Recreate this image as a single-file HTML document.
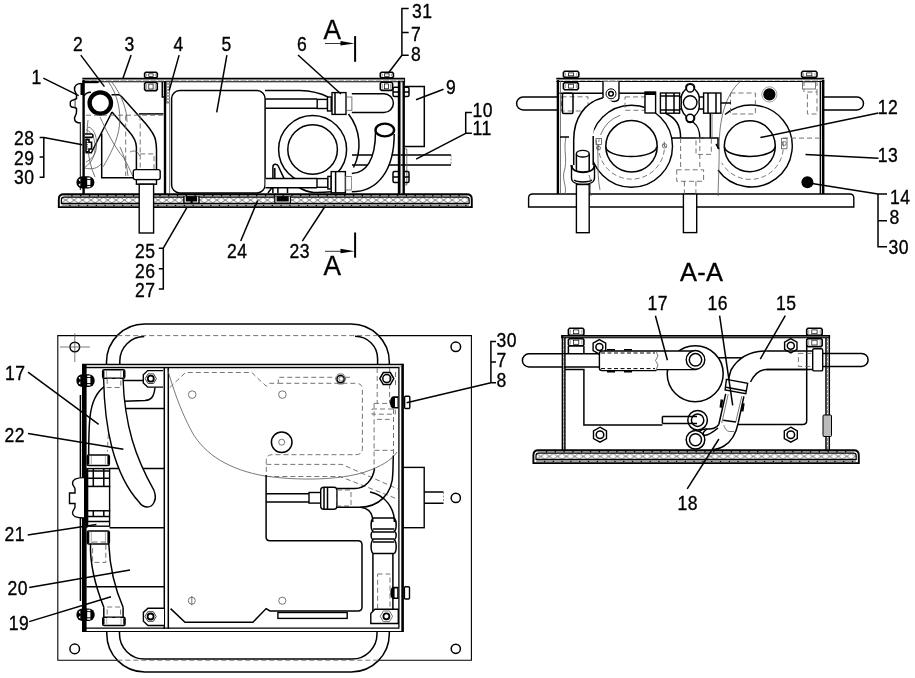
<!DOCTYPE html>
<html><head><meta charset="utf-8"><style>
html,body{margin:0;padding:0;background:#fff;}
svg{display:block;font-family:"Liberation Sans",sans-serif;will-change:transform;}
.k{fill:none;stroke:#000;stroke-width:1.4;stroke-linejoin:round;stroke-linecap:butt}
.b{fill:none;stroke:#000;stroke-width:2.4}
.t{fill:none;stroke:#555;stroke-width:0.8}
.d{fill:none;stroke:#666;stroke-width:0.9;stroke-dasharray:5 3}
.w{fill:#fff;stroke:#000;stroke-width:1.4}
.l{fill:none;stroke:#000;stroke-width:1.5}
text{font-size:19.5px;fill:#000;stroke:#000;stroke-width:0.35;letter-spacing:0.5px}
</style></head><body>
<svg width="915" height="678" viewBox="0 0 915 678">
<defs>
<pattern id="hx1" x="2.7" y="197.1" width="8.4" height="6" patternUnits="userSpaceOnUse">
<path d="M0,0 L8.4,6 M8.4,0 L0,6" stroke="#555" stroke-width="0.75"/>
</pattern>
<pattern id="hx4" x="536.5" y="453.4" width="8.5" height="6" patternUnits="userSpaceOnUse">
<path d="M0,0 L8.5,6 M8.5,0 L0,6" stroke="#555" stroke-width="0.75"/>
</pattern>
<pattern id="hx" width="3" height="3" patternUnits="userSpaceOnUse">
<rect width="3" height="3" fill="#fff"/>
<path d="M0,0 L3,3 M3,0 L0,3" stroke="#666" stroke-width="0.6"/>
</pattern>
</defs>

<!-- ================= VIEW 1 : side view ================= -->
<g id="v1">
<!-- base plate -->
<path d="M58.8,207.10000000000002 L58.8,199.3 Q58.8,194.3 63.8,194.3 L466.8,194.3 Q471.8,194.3 471.8,199.3 L471.8,207.10000000000002 Z" fill="#fff" stroke="#000" stroke-width="1.9"/>
<rect x="61.8" y="197.3" width="407.0" height="6" fill="url(#hx1)"/>
<path d="M61.4,203.4 L61.4,199.8 Q61.4,197.10000000000002 64.1,197.10000000000002 L466.5,197.10000000000002 Q469.2,197.10000000000002 469.2,199.8 L469.2,203.4 Z" fill="none" stroke="#000" stroke-width="1.2"/>
<path d="M63.8,195.8 L466.8,195.8 M61.8,205.3 L468.8,205.3" stroke="#000" stroke-width="1.6"/>
<path d="M63.8,195.8 L466.8,195.8 M61.8,205.3 L468.8,205.3" stroke="#fff" stroke-width="0.8" stroke-dasharray="7.5 1.3"/>
<!-- top plate -->
<path d="M82.3,78.7 L404.6,78.7" stroke="#000" stroke-width="1.7"/>
<path d="M83,80.4 L404,80.4" stroke="#999" stroke-width="0.8" stroke-dasharray="6 1.5"/>
<path d="M82.3,81.7 L404.6,81.7" stroke="#000" stroke-width="1.1"/>
<path d="M404.6,77.9 L404.6,82.3" stroke="#000" stroke-width="1"/>
<!-- left wall -->
<line x1="83.6" y1="80" x2="83.6" y2="194" class="b" stroke-width="3"/>
<line x1="80.3" y1="124" x2="80.3" y2="190" stroke="#000" stroke-width="1"/>
<!-- flange part 1 -->
<path d="M81,83.5 C77,83.5 74.5,86 74.5,89 C74.5,92 76.5,93 76.5,95.5 L76.5,98.5 L74.7,99.5 L74.7,107.5 L76.5,108.5 L76.5,112 C76.5,115 74.5,116 74.5,118.5 C74.5,121.5 77,123 81,123" class="l"/>
<path d="M74.7,99.5 L71.5,100.5 L70.3,102 L70.3,105.5 L71.5,107 L74.7,107.5" class="w" stroke-width="1.1"/>
<rect x="80.5" y="83" width="3.2" height="12" fill="#000"/>
<rect x="82.5" y="80.8" width="16" height="2.4" fill="#000"/>
<path d="M84,95.7 C86,93 88,92 91,92.2" class="l" stroke-width="1.2"/>
<!-- pipe ring -->
<circle cx="100.3" cy="103" r="10.7" fill="none" stroke="#000" stroke-width="4.3"/>
<!-- bracket part 2 -->
<path d="M111.5,94.8 L118.5,94.8 C120,95 121,96 122,97 L146,124 C151,130 154.6,135 155.5,140 C156.3,144 156.5,147 156.5,150 L156.5,170" class="l"/>
<path d="M112,112 L122.6,124.3 L129,131.5 C133,136 136.4,141 136.4,147 L136.4,170" class="l"/>
<path d="M112,112 L91.3,152.8 L85.5,152.8" class="l"/>
<path d="M101.7,133.5 L101.7,177.7 L133.5,177.7" class="l"/>
<path d="M138.9,113.9 L163.4,113.9" class="l"/>
<line x1="86" y1="115.2" x2="163" y2="115.2" class="d"/>
<line x1="125.7" y1="115.5" x2="125.7" y2="176" class="d"/>
<line x1="140.2" y1="115.5" x2="140.2" y2="154" class="d"/>
<rect x="140.2" y="153.9" width="13.8" height="25" class="d"/>
<path d="M107.9,81 C118,95 121,112 119.5,125 C118,140 110,155 103.2,166.7" class="t"/>
<path d="M111,81 C122,95 127,110 127,122" class="t"/>
<path d="M100.1,117.2 C106,130 115,148 123.4,157.4 C127,163 130,170 132.7,176" class="t"/>
<path d="M86.2,129.6 C92,132 96,140 95,150 C94,158 91,163 85,167" class="t"/>
<path d="M85,168 C92,170 98,168 101,164" class="t"/>
<path d="M88,120 C86,135 87,160 95,177" class="t"/>
<path d="M130,152 C134,150 138,151 139.5,156" class="t"/>
<path d="M120,147 C124,155 127,165 128,176" class="t"/>
<!-- bolt 28 -->
<path d="M85,134 L91.5,134 Q93,134 93,135.7 Q93,137.4 91.5,137.4 L85,137.4" fill="#fff" stroke="#000" stroke-width="1.6"/>
<path d="M86,139.6 L89,139.6 L89,142.2 L91.6,142.2 L91.6,149 L89,149 L89,151.8 L86,151.8 Z" fill="#fff" stroke="#000" stroke-width="1.6"/>
<path d="M87.2,142 L87.2,149.5" stroke="#000" stroke-width="1" stroke-dasharray="1 1.2"/>
<path d="M88,127 C95,128 98,140 96,150 C95,156 90,160 86,162" class="t"/>
<!-- bottom-left nut -->
<rect x="76.4" y="176.3" width="18" height="12.2" rx="6" fill="#000"/>
<rect x="87.2" y="177.5" width="3.2" height="1.5" fill="#fff"/><rect x="87.2" y="179.9" width="3.2" height="5" fill="#fff"/><rect x="87.2" y="185.9" width="3.2" height="1.4" fill="#fff"/>
<path d="M78.5,179.8 L80.3,178.60000000000002 L80.3,181.8 Z M78.5,185.10000000000002 L80.3,186.3 L80.3,183.10000000000002 Z" fill="#fff"/>
<!-- fitting & pipe down -->
<rect x="133.3" y="169.6" width="26.9" height="10" rx="2" class="w" stroke-width="1.6"/>
<rect x="136.4" y="179.6" width="20.1" height="4.6" class="w"/>
<rect x="139.2" y="184.2" width="14.4" height="48.8" class="w"/>
<!-- top bolt -->
<path d="M145.8,72.2 L156.1,72.2 L157.3,73.4 L157.3,76.7 L156.1,77.9 L145.8,77.9 L144.6,76.7 L144.6,73.4 Z" fill="#fff" stroke="#000" stroke-width="1.6"/><path d="M146.6,73.7 L146.6,76.4 M155.3,73.7 L155.3,76.4" stroke="#888" stroke-width="0.8"/><rect x="148.8" y="73.8" width="4.3" height="2.5" fill="none" stroke="#000" stroke-width="0.7"/>
<path d="M145.8,82.5 L156.1,82.5 L157.3,83.7 L157.3,89.4 L156.1,90.6 L145.8,90.6 L144.6,89.4 L144.6,83.7 Z" fill="#fff" stroke="#000" stroke-width="1.6"/><path d="M146.6,84.0 L146.6,89.1 M155.3,84.0 L155.3,89.1" stroke="#888" stroke-width="0.8"/><rect x="148.8" y="84.1" width="4.3" height="4.9" fill="none" stroke="#000" stroke-width="0.7"/>
<!-- part 4 wall -->
<line x1="165" y1="81" x2="165" y2="194" class="b"/>
<rect x="166.6" y="82" width="3" height="21" fill="url(#hx)" stroke="#333" stroke-width="0.6"/>
<line x1="169.6" y1="103" x2="169.6" y2="193" class="t"/>
<path d="M162.3,82 L162.3,97 L164,97" class="l" stroke-width="1"/>
<!-- part 5 -->
<rect x="171.6" y="90.6" width="93.5" height="102.3" rx="8" class="l"/>
<!-- upper curve line -->
<path d="M265,90.6 L300,90.6 C312,91 320,93 328,97" class="l"/>
<!-- upper tube -->
<path d="M265.5,98.9 L317,98.9 M265.5,108.2 L317,108.2" class="l"/>
<rect x="317.2" y="99.4" width="10.3" height="9.1" class="w" stroke-width="1.3"/>
<rect x="327.5" y="97" width="3.7" height="14" class="w" stroke-width="1.1"/>
<rect x="332" y="92.6" width="14" height="21.8" class="w" stroke-width="1.6"/>
<line x1="335" y1="93" x2="335" y2="114" class="l" stroke-width="1"/>
<rect x="346" y="97" width="5.9" height="13.3" class="t"/>
<path d="M351.8,93.7 L384,93.7 A9.4,9.4 0 0 1 384,112.5 L351.8,112.5" class="l"/>
<!-- big coil -->
<circle cx="312.6" cy="149.5" r="34" class="l"/>
<circle cx="312.6" cy="149.5" r="24.8" class="l"/>
<path d="M348.5,114 A50,50 0 0 1 353.5,167.5" class="l"/>
<!-- lower tube -->
<path d="M297.3,186.5 C303,190 308,192.2 313.7,192.4 C320,192.6 326,192.2 331.2,191.7" class="l" stroke-width="1.3"/>
<rect x="265.5" y="178.4" width="51.5" height="9.3" fill="#fff" stroke="none"/>
<path d="M265.5,178.4 L317,178.4 M265.5,187.7 L317,187.7" class="l"/>
<rect x="317" y="178.6" width="11" height="8.7" class="w" stroke-width="1.3"/>
<rect x="327.9" y="176.4" width="3.3" height="12.6" class="w" stroke-width="1.1"/>
<rect x="331.2" y="171.6" width="14.2" height="21.2" class="w" stroke-width="1.6"/>
<line x1="335.6" y1="172" x2="335.6" y2="192.5" class="l" stroke-width="1"/>
<rect x="345.4" y="176.4" width="6" height="13.6" class="t"/>
<!-- small clip near bottom -->
<path d="M272.9,178.4 L272.9,167 C272.9,163.5 277.5,163.5 278.5,166.5 C280,170 282,174 284,178.4" class="l" stroke-width="1.2"/>
<path d="M274.8,178.4 L274.8,168" class="l" stroke-width="0.9"/>
<path d="M272.9,187.7 L272.9,193 M277.9,187.7 L277.9,193 M287.5,187.7 L287.5,193 M268,193 C270,190 271,189 272,187.7" class="l" stroke-width="1.1"/>
<!-- horizontal pipe 10/11 -->
<path d="M352,155 L451,155 M352,164.9 L451,164.9" class="l"/>
<line x1="451" y1="155" x2="451" y2="164.9" stroke="#777" stroke-dasharray="2 1.5" stroke-width="0.8"/>
<path d="M404.8,149 L406.8,149 L406.8,185 L404.8,185" class="t"/>
<!-- elbow -->
<path d="M351.8,173.4 C366,173 375.5,160 375.5,132 L394.2,132 C394.2,170 378,191.8 351.8,191.8 Z" fill="#fff" stroke="none"/>
<path d="M351.8,173.4 C366,173 375.5,160 375.5,132" class="l"/>
<path d="M351.8,191.8 C378,191.8 394.2,170 394.2,134" class="l"/>
<ellipse cx="384.8" cy="130" rx="9.3" ry="6.4" fill="#fff" stroke="#000" stroke-width="2.4"/>
<!-- right wall -->
<line x1="399" y1="81" x2="399" y2="194" class="b" stroke-width="1.6"/>
<line x1="400.6" y1="81" x2="400.6" y2="194" class="t"/>
<line x1="403.7" y1="81" x2="403.7" y2="194" class="b" stroke-width="1.3"/>
<!-- right top bolt -->
<path d="M381.5,72.2 L392.2,72.2 L393.4,73.4 L393.4,76.7 L392.2,77.9 L381.5,77.9 L380.3,76.7 L380.3,73.4 Z" fill="#fff" stroke="#000" stroke-width="1.6"/><path d="M382.3,73.7 L382.3,76.4 M391.4,73.7 L391.4,76.4" stroke="#888" stroke-width="0.8"/><rect x="384.6" y="73.8" width="4.5" height="2.5" fill="none" stroke="#000" stroke-width="0.7"/>
<path d="M381.5,82.3 L391.4,82.3 L392.6,83.5 L392.6,89.2 L391.4,90.4 L381.5,90.4 L380.3,89.2 L380.3,83.5 Z" fill="#fff" stroke="#000" stroke-width="1.6"/><path d="M382.3,83.8 L382.3,88.9 M390.6,83.8 L390.6,88.9" stroke="#888" stroke-width="0.8"/><rect x="384.4" y="83.9" width="4.2" height="4.9" fill="none" stroke="#000" stroke-width="0.7"/>
<path d="M399,87.3 L394.5,87.3 Q393,87.3 393,88.8 L393,95.0 Q393,96.5 394.5,96.5 L399,96.5 M393,91.9 L399,91.9" class="l" stroke-width="1.2"/>
<path d="M404,87.3 L407.5,87.3 Q409,87.3 409,88.8 L409,95.0 Q409,96.5 407.5,96.5 L404,96.5 M404,91.9 L409,91.9" class="l" stroke-width="1.2"/>
<path d="M399,171.5 L394.5,171.5 Q393,171.5 393,173.0 L393,181.0 Q393,182.5 394.5,182.5 L399,182.5 M393,177.0 L399,177.0" class="l" stroke-width="1.2"/>
<path d="M404,171.5 L407.5,171.5 Q409,171.5 409,173.0 L409,181.0 Q409,182.5 407.5,182.5 L404,182.5 M404,177.0 L409,177.0" class="l" stroke-width="1.2"/>
<!-- box 9 -->
<path d="M405,86.4 L424.3,86.4 L424.3,146.5 L405,146.5" class="l"/>
<!-- base nuts -->
<rect x="183.2" y="196.2" width="16.5" height="7" fill="#000"/>
<path d="M185.2,196.5 L185.2,202 L190.5,202 M197.7,196.5 L197.7,202 L192.7,202" stroke="#fff" stroke-width="1.1" fill="none"/>
<rect x="274.2" y="196.2" width="16.8" height="7" fill="#000"/>
<path d="M276,196.5 L276,202 L289.3,202 L289.3,196.5" stroke="#fff" stroke-width="1.1" fill="none"/>
</g>

<!-- labels view 1 -->
<g class="l">
<path d="M43.3,78.2 L78.7,95.7"/>
<path d="M80.8,55.1 L104.4,86.6"/>
<path d="M131.1,55.1 L122.8,78.7"/>
<path d="M179.1,55.1 L169.2,90.5"/>
<path d="M226.9,55.1 L216.7,112.3"/>
<path d="M298,55 L341,94"/>
<path d="M39.6,137.5 L43.8,137.5 L82.3,144.8 M43.8,137.5 L43.8,177.3 L39.6,177.3 M39.6,157.1 L43.8,157.1"/>
<path d="M408.7,8.4 L401.9,8.4 L401.9,55.2 L408.7,55.2 M401.9,32.4 L408.7,32.4 M401.9,55.2 L388.4,73"/>
<path d="M416,99.8 L443.5,89.2"/>
<path d="M471.9,112.6 L465.7,112.6 L465.7,133.3 L471.9,133.3 M465.7,133.3 L416.1,159.1"/>
<path d="M158.8,248.2 L163.3,248.2 L163.3,289.1 L158.8,289.1 M158.8,268.7 L163.3,268.7 M163.3,248.2 L187.3,206.8"/>
<path d="M240.7,241 L257.7,200.5"/>
<path d="M302.3,241.1 L324.6,207"/>
</g>
<g>
<text transform="translate(31.5,84.0) scale(0.9,1)">1</text>
<text transform="translate(72.9,50.5) scale(0.9,1)">2</text>
<text transform="translate(124.5,50.5) scale(0.9,1)">3</text>
<text transform="translate(173.5,50.5) scale(0.9,1)">4</text>
<text transform="translate(221.5,50.5) scale(0.9,1)">5</text>
<text transform="translate(297.0,50.5) scale(0.9,1)">6</text>
<text transform="translate(14.0,145.0) scale(0.9,1)">28</text>
<text transform="translate(14.0,164.5) scale(0.9,1)">29</text>
<text transform="translate(14.0,184.0) scale(0.9,1)">30</text>
<text transform="translate(412.0,17.5) scale(0.9,1)">31</text>
<text transform="translate(411.0,41.0) scale(0.9,1)">7</text>
<text transform="translate(411.0,61.0) scale(0.9,1)">8</text>
<text transform="translate(446.0,93.5) scale(0.9,1)">9</text>
<text transform="translate(472.5,116.5) scale(0.9,1)">10</text>
<text transform="translate(472.5,135.0) scale(0.9,1)">11</text>
<text transform="translate(135.0,258.0) scale(0.9,1)">25</text>
<text transform="translate(135.0,277.5) scale(0.9,1)">26</text>
<text transform="translate(135.0,296.5) scale(0.9,1)">27</text>
<text transform="translate(227.0,258.0) scale(0.9,1)">24</text>
<text transform="translate(289.5,258.0) scale(0.9,1)">23</text>
<text transform="translate(323.6,39) scale(0.92,1)" style="font-size:28.5px">A</text>
<text transform="translate(323.6,275.2) scale(0.92,1)" style="font-size:28.5px">A</text>
</g>
<!-- section marks -->
<g>
<line x1="325" y1="43.5" x2="342" y2="43.5" stroke="#000" stroke-width="0.8"/>
<path d="M340.5,41 L354.5,43.5 L340.5,45.5 Z" fill="#000"/>
<line x1="355.1" y1="36.1" x2="355.1" y2="61.8" stroke="#000" stroke-width="2"/>
<line x1="325" y1="251.3" x2="342" y2="251.3" stroke="#000" stroke-width="0.8"/>
<path d="M340.5,248.8 L354.5,251.3 L340.5,253.3 Z" fill="#000"/>
<line x1="355.1" y1="232.5" x2="355.1" y2="257.7" stroke="#000" stroke-width="2"/>
</g>

<!-- ================= VIEW 2 : front view ================= -->
<g id="v2">
<!-- base plate -->
<path d="M528.6,207 L528.6,198 Q528.6,194 532.6,194 L849.8,194 Q853.8,194 853.8,198 L853.8,207 Z" class="w" stroke-width="1.6"/>
<!-- handles -->
<path d="M557,97 L523.1,97 A6.5,6.5 0 0 0 523.1,110 L557,110" class="l"/>
<path d="M824,97 L857,97 A6.5,6.5 0 0 1 857,110 L824,110" class="l"/>
<rect x="561.5" y="96.8" width="26.5" height="14.2" class="d"/>
<rect x="562.4" y="93.3" width="10.6" height="20.3" rx="1.5" class="l"/>
<!-- top plate -->
<path d="M556.3,78.7 L824.2,78.7" stroke="#000" stroke-width="1.7"/>
<path d="M557,80.3 L823.5,80.3" stroke="#999" stroke-width="0.8" stroke-dasharray="6 1.5"/>
<path d="M556.3,81.5 L824.2,81.5" stroke="#000" stroke-width="1.1"/>
<line x1="559.4" y1="93.2" x2="605" y2="93.2" class="l"/>
<line x1="618" y1="93.2" x2="646" y2="93.2" class="l"/>
<!-- walls -->
<line x1="557.9" y1="80" x2="557.9" y2="194" class="b" stroke-width="2"/>
<line x1="560.5" y1="81" x2="560.5" y2="194" class="t"/>
<line x1="820.4" y1="81" x2="820.4" y2="194" class="l" stroke-width="1.2"/>
<line x1="823.2" y1="80" x2="823.2" y2="194" class="b" stroke-width="1.6"/>
<!-- top bolts -->
<path d="M564.6,71.3 L577.6,71.3 L578.8,72.5 L578.8,76.2 L577.6,77.4 L564.6,77.4 L563.4,76.2 L563.4,72.5 Z" fill="#fff" stroke="#000" stroke-width="1.6"/><path d="M565.4,72.8 L565.4,75.9 M576.8,72.8 L576.8,75.9" stroke="#888" stroke-width="0.8"/><rect x="568.5" y="72.9" width="5.2" height="2.9" fill="none" stroke="#000" stroke-width="0.7"/>
<path d="M564.6,82.6 L577.2,82.6 L578.4,83.8 L578.4,88.5 L577.2,89.7 L564.6,89.7 L563.4,88.5 L563.4,83.8 Z" fill="#fff" stroke="#000" stroke-width="1.6"/><path d="M565.4,84.1 L565.4,88.2 M576.4,84.1 L576.4,88.2" stroke="#888" stroke-width="0.8"/><rect x="568.4" y="84.2" width="5.1" height="3.9" fill="none" stroke="#000" stroke-width="0.7"/>
<path d="M802.8,71.3 L815.8,71.3 L817.0,72.5 L817.0,76.2 L815.8,77.4 L802.8,77.4 L801.6,76.2 L801.6,72.5 Z" fill="#fff" stroke="#000" stroke-width="1.6"/><path d="M803.6,72.8 L803.6,75.9 M815,72.8 L815,75.9" stroke="#888" stroke-width="0.8"/><rect x="806.7" y="72.9" width="5.2" height="2.9" fill="none" stroke="#000" stroke-width="0.7"/>
<rect x="802.5" y="82" width="13" height="7" class="t"/>
<rect x="807.4" y="92" width="9.6" height="22" class="d"/>
<line x1="804" y1="81" x2="804" y2="92" class="d"/><line x1="817" y1="81" x2="817" y2="92" class="d"/>
<!-- tab with circle -->
<path d="M603,81.5 L603,97 Q603,101.5 608,101.5 L614,101.5 Q619,101.5 619,97 L619,81.5" class="w"/>
<circle cx="611" cy="93.8" r="5" fill="#fff" stroke="#000" stroke-width="1"/>
<circle cx="611" cy="93.8" r="2.3" class="l" stroke-width="1"/>
<!-- left ring -->
<circle cx="631.5" cy="146.3" r="41" class="w" stroke-width="1.7"/>
<path d="M664.2,141.7 A33,33 0 1 1 599.2,139.4" class="d"/>
<path d="M600.5,135.0 A33,33 0 0 1 620.2,115.3" class="t"/>
<circle cx="664.5" cy="145.8" r="2.2" class="t"/><path d="M662.5,144 L666.5,147.6" class="t"/>
<rect x="596" y="138.5" width="5.5" height="6" class="t"/><circle cx="598.5" cy="148" r="2" class="t"/>
<circle cx="631.5" cy="146.3" r="25.7" class="l" stroke-width="1.9"/>
<path d="M605.8,146.7 A25,9.6 0 0 0 656.6,146.7" class="l" stroke-width="1.8"/>
<!-- right ring -->
<path d="M725,114.5 A41,41 0 1 1 718,170" class="w" stroke-width="1.7"/>
<path d="M783.0,141.7 A33,33 0 0 1 721.7,162.8" class="d"/>
<circle cx="749.8" cy="146.2" r="25.5" class="l" stroke-width="1.9"/>
<path d="M724.5,146.7 A25,9.6 0 0 0 774.9,146.7" class="l" stroke-width="1.8"/>
<path d="M740.3,81.5 C725,95 719.2,120 719.2,146.7 C719.2,170 718,185 718.2,196" class="t"/>
<!-- left elbow -->
<path d="M603,97.7 C585,102 573.7,118 573.7,140 L573.7,166 L593.2,166 L593.2,136 C594,118 602,108 615,103" fill="#fff" stroke="none"/>
<path d="M603,97.7 C585,102 573.7,118 573.7,140 L573.7,166" class="l"/>
<path d="M593.2,166 L593.2,136" class="l"/>
<path d="M571.5,165 L571.5,178 C571.5,182 576,184.5 583,184.5 C590,184.5 594.5,182 594.5,178 L594.5,165" class="w"/>
<path d="M571.5,165 C571.5,170.5 578,172.2 583,172.2 C588,172.2 594.5,170.5 594.5,165" fill="none" stroke="#000" stroke-width="2"/>
<path d="M574,180 C577,182.5 589,182.5 592,180" class="l" stroke-width="1"/>
<path d="M576.4,153.7 L576.4,171 M589.2,153.7 L589.2,171" class="l" stroke-width="1"/>
<ellipse cx="582.8" cy="153.7" rx="6.4" ry="3.3" class="w"/>
<rect x="576.4" y="184.5" width="12.8" height="48.2" class="w"/>
<rect x="683.4" y="194" width="13.3" height="38.6" class="w"/>
<!-- wavy break lines -->
<path d="M566,137 C563,150 568,160 564,172 C562,180 567,186 565,194 M589,175 C592,182 589,188 591,196 M596,140 C600,155 596,170 600,190" class="t"/>
<line x1="560" y1="137" x2="569" y2="137" class="l" stroke-width="1"/>
<!-- middle fittings -->
<rect x="625" y="96.9" width="20" height="13.4" class="d"/>
<rect x="645" y="92" width="10.6" height="21" class="w" stroke-width="1.1"/>
<rect x="645" y="92" width="10.6" height="3" fill="#000"/>
<rect x="660.4" y="93" width="19.2" height="20.2" class="w"/>
<line x1="666" y1="93" x2="666" y2="113" class="l" stroke-width="1"/><line x1="674" y1="93" x2="674" y2="113" class="l" stroke-width="1"/>
<line x1="660.4" y1="96" x2="679.6" y2="96" class="l" stroke-width="0.8"/><line x1="660.4" y1="110" x2="679.6" y2="110" class="l" stroke-width="0.8"/>
<line x1="679.6" y1="97" x2="682.5" y2="97" class="l"/><line x1="679.6" y1="109" x2="682.5" y2="109" class="l"/>
<path d="M690.2,83.6 C694,83.6 695,86 694.5,89 C699,93 700,98 699,102 C700,107 699,112 694.5,116 C695,119 694,122.5 690.2,122.5 C686.4,122.5 685.4,119 686,116 C681.5,112 680.5,107 681.4,102 C680.5,98 681.5,93 686,89 C685.4,86 686.4,83.6 690.2,83.6 Z" class="w"/>
<circle cx="690.2" cy="88.2" r="3.8" class="w" stroke-width="1.1"/>
<circle cx="690.2" cy="102.6" r="6.8" class="w" stroke-width="1.1"/>
<circle cx="690.2" cy="118" r="3.8" class="w" stroke-width="1.1"/>
<line x1="698.8" y1="97" x2="703.6" y2="97" class="l"/><line x1="698.8" y1="109" x2="703.6" y2="109" class="l"/>
<rect x="703.6" y="93" width="17.3" height="20.2" class="w"/>
<line x1="708" y1="93" x2="708" y2="113" class="l" stroke-width="1"/><line x1="716" y1="93" x2="716" y2="113" class="l" stroke-width="1"/>
<line x1="710.3" y1="113" x2="710.3" y2="138" class="l" stroke-width="1"/>
<line x1="712" y1="113" x2="712" y2="138" class="t"/>
<rect x="730.5" y="93" width="24.9" height="21" class="d"/>
<line x1="720.9" y1="103" x2="731" y2="103" class="l" stroke-width="0.8"/>
<!-- pipe from fitting down -->
<path d="M665,113 C676,118 680.6,125 680.6,138" class="l"/>
<path d="M693,122 C698,126 699.8,130 699.8,138" class="l"/>
<path d="M672,138.1 L718,138.1 L718,148.6" class="l"/>
<line x1="783" y1="138.1" x2="819" y2="138.1" class="d"/>
<rect x="781.5" y="138.3" width="5.5" height="10.5" class="t"/><circle cx="784.2" cy="143.5" r="2" class="t"/>
<path d="M680.6,138 L680.6,170 M699.8,138 L699.8,170" class="d"/>
<rect x="676.7" y="169.8" width="26.9" height="11.5" class="d"/>
<path d="M684.4,181.3 L684.4,194 M695.9,181.3 L695.9,194" class="d"/>
<rect x="696" y="138" width="15.3" height="16.4" class="d"/>
<!-- small bolts on ring -->
<path d="M716,144 L719,149" class="l" stroke-width="2"/>
<!-- dots -->
<circle cx="769.4" cy="94.4" r="7.6" fill="#fff" stroke="#777" stroke-width="0.7"/>
<circle cx="769.4" cy="94.4" r="6.1" fill="#000"/>
<circle cx="807.4" cy="182.2" r="6" fill="#000"/>
</g>
<g class="l">
<path d="M878.4,113 L760.4,137.5"/>
<path d="M878.4,158.2 L805.5,154.4"/>
<path d="M887,193.9 L878,193.9 L878,246.8 L887,246.8 M878,220.7 L887,220.7 M878,193.9 L812,183.4"/>
</g>
<text transform="translate(877.7,113.5) scale(0.9,1)">12</text>
<text transform="translate(877.7,162.0) scale(0.9,1)">13</text>
<text transform="translate(890.0,203.5) scale(0.9,1)">14</text>
<text transform="translate(889.5,223.5) scale(0.9,1)">8</text>
<text transform="translate(888.5,253.5) scale(0.9,1)">30</text>

<!-- ================= VIEW 3 : top view ================= -->
<g id="v3">
<!-- outer plate -->
<path d="M117.2,335.6 L57.8,335.6 L57.8,660.2 L117.3,660.2 M378.8,660.2 L471.4,660.2 L471.4,335.6 L378.6,335.6" fill="none" stroke="#000" stroke-width="1.1"/>
<circle cx="74.8" cy="347" r="4.8" class="l" stroke-width="1"/>
<path d="M60,347 L89.9,347 M74.8,333.3 L74.8,362" class="t"/>
<circle cx="74.7" cy="648.9" r="4.8" class="l" stroke-width="1"/>
<circle cx="455.8" cy="346.8" r="4.8" class="l" stroke-width="1"/>
<circle cx="455.8" cy="497.9" r="4.6" class="l" stroke-width="1"/>
<circle cx="455.8" cy="648.8" r="4.6" class="l" stroke-width="1"/>
<!-- handle -->
<path d="M106.5,368 L106.5,362 A38,38 0 0 1 144.5,324 L351.3,324 A38,38 0 0 1 389.3,362 L389.3,368" class="l"/>
<path d="M119.8,368 L119.8,361 A24.5,24.5 0 0 1 144.3,336.6" class="l"/>
<path d="M117.2,335.6 L378.6,335.6" class="d"/>
<path d="M355,336.2 A22.5,22.5 0 0 1 377.6,358.7 L377.6,368" class="l"/>
<path d="M106.8,630 L106.8,634 A38,38 0 0 0 144.8,672 L351.3,672 A38,38 0 0 0 389.3,634 L389.3,630" class="l"/>
<path d="M119.5,630 L119.5,634 A25,25 0 0 0 144.5,659 L352,659 A25,25 0 0 0 377,634 L377,630" class="l"/>
<line x1="117.3" y1="660.2" x2="378.8" y2="660.2" class="d"/>
<!-- housing -->
<rect x="84" y="364.3" width="318.7" height="267.2" fill="#fff" stroke="none"/>
<rect x="84" y="365" width="317" height="2.3" fill="#ccc"/>
<path d="M82,364.3 L402.8,364.3 M84,367.6 L399,367.6 M84,628.2 L399,628.2 M82,631.5 L402.8,631.5" fill="none" stroke="#000" stroke-width="1.2"/>
<line x1="398.9" y1="367" x2="398.9" y2="628.5" stroke="#000" stroke-width="1.3"/>
<line x1="402.6" y1="363.7" x2="402.6" y2="632.1" stroke="#000" stroke-width="2.6"/>
<rect x="82" y="364" width="4.6" height="268" fill="#000"/>
<line x1="80.4" y1="395" x2="80.4" y2="601" class="l" stroke-width="1"/>
<line x1="164.3" y1="367" x2="164.3" y2="629" class="l" stroke-width="1.6"/>
<line x1="168.3" y1="367" x2="168.3" y2="629" class="l" stroke-width="1.2"/>
<!-- left section horizontal lines -->
<path d="M124,408.5 L164,408.5 M109.5,468.6 L164,468.6 M109.5,527.8 L164,527.8 M86.5,586.8 L164,586.8" class="l"/>
<!-- left bolts -->
<rect x="76.4" y="374.3" width="18.3" height="12.6" rx="6" fill="#000"/>
<rect x="87.2" y="375.5" width="3.2" height="1.5" fill="#fff"/><rect x="87.2" y="377.90000000000003" width="3.2" height="5.2" fill="#fff"/><rect x="87.2" y="384.1" width="3.2" height="1.5" fill="#fff"/>
<path d="M78.5,377.8 L80.3,376.6 L80.3,379.8 Z M78.5,383.3 L80.3,384.6 L80.3,381.3 Z" fill="#fff"/>
<rect x="76.4" y="608.5" width="18.3" height="12.6" rx="6" fill="#000"/>
<rect x="87.2" y="609.7" width="3.2" height="1.5" fill="#fff"/><rect x="87.2" y="612.1" width="3.2" height="5.2" fill="#fff"/><rect x="87.2" y="618.3" width="3.2" height="1.5" fill="#fff"/>
<path d="M78.5,612.0 L80.3,610.8 L80.3,614.0 Z M78.5,617.5 L80.3,618.8 L80.3,615.5 Z" fill="#fff"/>
<!-- tube 17 (behind) -->
<path d="M146,380.6 L124,380.6 C110,381 100,388 95,398 C90,408 88.7,420 88.7,456" class="l"/>
<path d="M155,387.5 C154,396 152,400 145,400.5 L124,401.2" class="l"/>
<path d="M118,404 C110,415 108,430 107.5,451.5" class="d"/>
<!-- tube 22 (S, front) -->
<path d="M103.6,378.3 C104,400 106,425 112,448 C118,470 128,490 139,502 C141,505 144,507 147.5,507 C153,507 156.5,500 155,494 L154,490.4 C147,478 138,460 132.2,440 C125,415 123.5,395 123,378.3 Z" class="w"/>
<rect x="102.6" y="369.8" width="22.200000000000003" height="8.5" rx="1.5" class="w" stroke-width="1.4"/>
<path d="M103.6,370.8 L103.6,377.3 M123.8,370.8 L123.8,377.3" stroke="#000" stroke-width="1.6"/>
<path d="M106.6,370.8 L106.6,377.3 M120.8,370.8 L120.8,377.3" stroke="#999" stroke-width="0.8"/>
<rect x="107.2" y="378.3" width="13.6" height="9.2" class="d"/>
<!-- nut with circle -->
<path d="M163,370.6 L147.7,370.6 L143.3,374.7 L143.3,383 L147.7,387.1 L163,387.1" class="w"/>
<polygon points="156.4,378.7 153.6,383.5 148.0,383.5 145.2,378.7 148.0,373.9 153.6,373.9" fill="none" stroke="#444" stroke-width="1"/>
<circle cx="150.8" cy="378.7" r="3" fill="none" stroke="#000" stroke-width="1.8"/>
<!-- fitting stack -->
<rect x="87.3" y="455" width="22.10000000000001" height="10.5" rx="1.5" class="w" stroke-width="1.4"/>
<path d="M88.3,456 L88.3,464.5 M108.4,456 L108.4,464.5" stroke="#000" stroke-width="2"/>
<path d="M91.3,456 L91.3,464.5 M105.4,456 L105.4,464.5" stroke="#999" stroke-width="0.8"/>
<rect x="85" y="468.6" width="2.6" height="59.2" fill="#000"/>
<rect x="87.6" y="468.6" width="22" height="17.9" class="w"/>
<path d="M87.6,471 L109.6,471 M87.6,478.3 L109.6,478.3 M93.3,468.6 L93.3,486.5 M103.8,468.6 L103.8,486.5" class="l" stroke-width="1"/>
<rect x="87.6" y="486.5" width="22" height="24.3" class="w"/>
<rect x="87.6" y="510.8" width="22" height="15.4" class="w"/>
<path d="M87.6,516.5 L109.6,516.5 M87.6,521.4 L109.6,521.4 M93.3,510.8 L93.3,516.5 M103.8,510.8 L103.8,516.5" class="l" stroke-width="1"/>
<path d="M84,477.6 C78,477.6 72.5,479 72.5,483 C72.5,486 75,487 75,489 L75,493 L69.5,493 L69.5,503.5 L75,503.5 L75,507 C75,509 72.5,510 72.5,513 C72.5,516 77,518 84,518" class="w"/>
<rect x="87.3" y="531" width="22.10000000000001" height="13" rx="1.5" class="w" stroke-width="1.4"/>
<path d="M88.3,532 L88.3,543 M108.4,532 L108.4,543" stroke="#000" stroke-width="2"/>
<path d="M91.3,532 L91.3,543 M105.4,532 L105.4,543" stroke="#999" stroke-width="0.8"/>
<path d="M90.5,544 C90,560 93,580 103.8,607.2 M108.8,544 C109.5,560 112,582 123.1,607.2" class="l"/>
<rect x="92.6" y="542" width="13.2" height="20.4" class="d"/>
<rect x="102.7" y="617.3" width="22.39999999999999" height="8.200000000000045" rx="1.5" class="w" stroke-width="1.4"/>
<path d="M103.7,618.3 L103.7,624.5 M124.1,618.3 L124.1,624.5" stroke="#000" stroke-width="1.6"/>
<path d="M106.7,618.3 L106.7,624.5 M121.1,618.3 L121.1,624.5" stroke="#999" stroke-width="0.8"/>
<path d="M103.8,607.2 L103.8,617.3 M123.1,607.2 L123.1,617.3" class="l"/>
<rect x="107.2" y="607" width="13.4" height="10.3" class="d"/>
<!-- bottom-left nut tab -->
<path d="M164,608.2 L148,608.2 L143.4,612.4 L143.4,621.2 L148,625.5 L164,625.5" class="w"/>
<polygon points="156.2,616.5 153.4,621.3 147.8,621.3 145.0,616.5 147.8,611.7 153.4,611.7" fill="none" stroke="#444" stroke-width="1"/>
<circle cx="150.6" cy="616.5" r="3" fill="none" stroke="#000" stroke-width="1.8"/>
<!-- component outlines right section -->
<path d="M167.2,367.9 C172,385 180,410 192,432 C205,455 230,470 265,476 C300,481 340,480 365,472 C380,467 392,460 397,452" class="t"/>
<path d="M169.8,387.5 L185.6,372.5 L251.8,372.5 L266.2,386.2 L269.5,383.3 L278.3,383.3 L278.3,377.3 L336,377.3 M345,377.3 L350,377.3 M278.3,383.3 L356,383.3 Q362.4,383.3 362.4,389.5 L362.4,448 Q362.4,454.7 356,454.7 L272,454.7 Q266.3,454.7 266.3,460.5 L266.3,476" class="d"/>
<path d="M266.3,464.4 L342,464.4 L400,490" class="d"/>
<path d="M266.3,476.5 L340,476.5 L400,500" class="d"/>
<path d="M377.2,368 L377.2,403.4 M389.6,368 L389.6,403.4 M374.1,403.4 L374.1,468.7 M393.5,409 L393.5,455.4 M374.1,403.4 L394.2,403.4 M377,419.4 L389.6,419.4 M374.5,450.3 L393.3,450.3 M395.5,372 L395.5,387" class="d" stroke-width="0.8"/>
<rect x="372" y="409" width="23.3" height="5.2" class="d" stroke-width="0.8"/>
<path d="M266.1,475 L266.1,537 Q266.1,540.8 270,540.8 L358,540.8 Q362,540.8 362,545 L362,607 Q362,611 358,611 L270,611 L266.1,608.6 L252.9,622.2 L185,622.2 L170.6,608.6" class="l"/>
<rect x="277.9" y="612.5" width="69.3" height="5.9" class="w" stroke-width="1.1"/>
<!-- horizontal pipe + fitting -->
<path d="M266.1,493.7 L309,493.7 M266.1,501.9 L309,501.9" class="l"/>
<rect x="309" y="492.5" width="11.7" height="10.6" class="w" stroke-width="1.1"/>
<rect x="320.7" y="487.2" width="16.2" height="22.1" rx="3" class="w"/>
<path d="M324,487.5 L324,509 M327.5,487.5 L327.5,509" class="l" stroke-width="0.9"/>
<rect x="337" y="490" width="14" height="16" class="d"/>
<!-- pipe bend from top -->
<path d="M374.5,468.7 C373,480 365,488 355,488.6 L337,488.6" class="l"/>
<path d="M393.3,455.4 L392.9,472 C392.9,495 378,507 360,507.2 L337,507.2" class="l"/>
<path d="M360.5,507.2 C368,508 372.9,512 372.9,522" class="l"/>
<path d="M370,492 C385,495 394.4,508 394.4,522" class="l"/>
<!-- corrugated fitting -->
<path d="M372.9,518 L394.4,518 M372.9,553.5 L394.4,553.5" class="l"/>
<path d="M372.9,518 C370.5,521 370.5,529 372.9,531 C370.5,533 370.5,538 372.9,540 C370.5,542 370.5,551 372.9,553.5 M394.4,518 C396.8,521 396.8,529 394.4,531 C396.8,533 396.8,538 394.4,540 C396.8,542 396.8,551 394.4,553.5" class="l"/>
<path d="M372.9,529 L394.4,529 M372.9,532 L394.4,532 M372.9,539 L394.4,539 M372.9,542 L394.4,542" class="l" stroke-width="0.9"/>
<path d="M372.9,553.5 L372.9,617 M392.9,553.5 L392.9,617" class="l"/>
<rect x="377.6" y="574" width="12.4" height="37" class="d"/>
<!-- bottom clamp -->
<path d="M370.8,613.5 L374.8,609.3 L398.3,609.3 L398.3,623.5 L370.8,623.5 Z" class="w"/>
<path d="M383.3,611 L389.5,611 L392.6,616.3 L389.5,621.6 L383.3,621.6 L380.2,616.3 Z" fill="none" stroke="#666" stroke-width="0.9"/>
<circle cx="386.4" cy="616.3" r="3" fill="none" stroke="#000" stroke-width="1.8"/>
<!-- right bolt -->
<path d="M393,586.8 L398.4,586.8 L398.4,599 L393,599 C389.5,598.5 389.5,587.3 393,586.8 Z" fill="#000"/>
<rect x="404.4" y="586.8" width="5.1" height="12.2" rx="1" class="w" stroke-width="1.3"/>
<rect x="394.6" y="588.5" width="2.6" height="9" fill="#fff"/>
<path d="M393,396.3 L398.4,396.3 L398.4,408.5 L393,408.5 C389,408 389,397 393,396.3 Z" fill="#000"/>
<rect x="404.6" y="396.3" width="5.2" height="12.2" rx="1" class="w" stroke-width="1.3"/>
<rect x="395" y="398" width="2.5" height="9" fill="#fff"/>
<!-- small circles / nuts inside -->
<circle cx="281.7" cy="442.2" r="10.3" class="l"/>
<circle cx="281.7" cy="442.2" r="3" class="t"/>
<circle cx="192.2" cy="394.6" r="3.8" class="t" stroke-width="1"/>
<circle cx="282.4" cy="394.6" r="3.8" class="t" stroke-width="1"/>
<path d="M338.2,374 L343.2,374 L345.9,379 L343.2,384 L338.2,384 L335.5,379 Z" class="t"/>
<circle cx="340.6" cy="379.1" r="3.6" fill="#fff" stroke="#000" stroke-width="1.4"/>
<circle cx="341.2" cy="378.9" r="2.3" class="t"/>
<path d="M383.3,372.6 L390.3,372.6 L393.8,378.6 L390.3,384.6 L383.3,384.6 L379.8,378.6 Z" class="l" stroke-width="1.1"/>
<circle cx="386.8" cy="378.6" r="4" class="l" stroke-width="2"/>
<circle cx="191.8" cy="600.7" r="3.5" class="t" stroke-width="1"/><line x1="191.8" y1="596" x2="191.8" y2="605.4" class="t"/>
<circle cx="282.3" cy="600.7" r="3.6" class="t" stroke-width="1"/>
<!-- right box & pipe -->
<rect x="403.2" y="467.4" width="21" height="60.3" class="w"/>
<path d="M424.2,492 L443.5,492 M424.2,503.2 L443.5,503.2" class="l"/>
<line x1="443.5" y1="492" x2="443.5" y2="503.2" stroke="#777" stroke-dasharray="2 1.5" stroke-width="0.8"/>
</g>
<g class="l">
<path d="M28,372.2 L98.7,424.4"/>
<path d="M28,433.4 L123.4,449.3"/>
<path d="M27.7,534.9 L96.4,524.4"/>
<path d="M29.2,587.4 L130,570"/>
<path d="M29.2,621.6 L111,596.8"/>
<path d="M496,341.4 L490.9,341.4 L490.9,382.7 L496,382.7 M490.9,362 L496,362 M490.9,382.7 L406.6,402.7"/>
</g>
<text transform="translate(5.0,380.0) scale(0.9,1)">17</text>
<text transform="translate(4.5,441.8) scale(0.9,1)">22</text>
<text transform="translate(4.5,541.3) scale(0.9,1)">21</text>
<text transform="translate(7.5,595.3) scale(0.9,1)">20</text>
<text transform="translate(8.7,629.5) scale(0.9,1)">19</text>
<text transform="translate(496.5,347.0) scale(0.9,1)">30</text>
<text transform="translate(496.5,367.3) scale(0.9,1)">7</text>
<text transform="translate(496.5,387.3) scale(0.9,1)">8</text>

<!-- ================= VIEW 4 : section A-A ================= -->
<g id="v4">
<!-- base plate -->
<path d="M533.4,463.1 L533.4,455.3 Q533.4,450.3 538.4,450.3 L853.8,450.3 Q858.8,450.3 858.8,455.3 L858.8,463.1 Z" fill="#fff" stroke="#000" stroke-width="1.9"/>
<rect x="536.4" y="453.3" width="319.4" height="6" fill="url(#hx4)"/>
<path d="M536.0,459.40000000000003 L536.0,455.8 Q536.0,453.1 538.6999999999999,453.1 L853.5,453.1 Q856.1999999999999,453.1 856.1999999999999,455.8 L856.1999999999999,459.40000000000003 Z" fill="none" stroke="#000" stroke-width="1.2"/>
<path d="M538.4,451.8 L853.8,451.8 M536.4,461.3 L855.8,461.3" stroke="#000" stroke-width="1.6"/>
<path d="M538.4,451.8 L853.8,451.8 M536.4,461.3 L855.8,461.3" stroke="#fff" stroke-width="0.8" stroke-dasharray="7.5 1.3"/>
<!-- handle left -->
<path d="M601,353.8 L529,353.8 A6.6,6.6 0 0 0 529,367 L601,367" class="l"/>
<!-- top plate -->
<rect x="561.6" y="335.5" width="268" height="2.3" fill="#555" stroke="#000" stroke-width="1"/>
<!-- walls -->
<line x1="562.4" y1="336" x2="562.4" y2="450.5" class="l" stroke-width="1.5"/>
<line x1="563.5" y1="338" x2="563.5" y2="450" stroke="#999" stroke-width="1" stroke-dasharray="3 1"/>
<line x1="564.9" y1="338" x2="564.9" y2="450.5" class="l" stroke-width="1.2"/>
<line x1="826" y1="338" x2="826" y2="450.5" class="l" stroke-width="1.3"/>
<line x1="827.5" y1="338" x2="827.5" y2="450" stroke="#999" stroke-width="1" stroke-dasharray="3 1"/>
<line x1="829.3" y1="336" x2="829.3" y2="450.5" class="l" stroke-width="1.5"/>
<rect x="823" y="415" width="8.5" height="21.5" rx="1" fill="#bbb" stroke="#000" stroke-width="1"/>
<!-- bolts -->
<path d="M569.6,328.3 L582.7,328.3 L583.9,329.5 L583.9,334.1 L582.7,335.3 L569.6,335.3 L568.4,334.1 L568.4,329.5 Z" fill="#fff" stroke="#000" stroke-width="1.6"/><path d="M570.4,329.8 L570.4,333.8 M581.9,329.8 L581.9,333.8" stroke="#888" stroke-width="0.8"/><rect x="573.5" y="329.9" width="5.3" height="3.8" fill="none" stroke="#000" stroke-width="0.7"/>
<path d="M569.6,338.6 L582.7,338.6 L583.9,339.8 L583.9,344.7 L582.7,345.9 L569.6,345.9 L568.4,344.7 L568.4,339.8 Z" fill="#fff" stroke="#000" stroke-width="1.6"/><path d="M570.4,340.1 L570.4,344.4 M581.9,340.1 L581.9,344.4" stroke="#888" stroke-width="0.8"/><rect x="573.5" y="340.2" width="5.3" height="4.1" fill="none" stroke="#000" stroke-width="0.7"/>
<path d="M568.4,345.9 L568.4,353 M583.9,345.9 L583.9,353" class="l"/>
<path d="M807.9,328.3 L821.0,328.3 L822.2,329.5 L822.2,334.1 L821.0,335.3 L807.9,335.3 L806.7,334.1 L806.7,329.5 Z" fill="#fff" stroke="#000" stroke-width="1.6"/><path d="M808.7,329.8 L808.7,333.8 M820.2,329.8 L820.2,333.8" stroke="#888" stroke-width="0.8"/><rect x="811.8" y="329.9" width="5.3" height="3.8" fill="none" stroke="#000" stroke-width="0.7"/>
<path d="M807.9,338.6 L821.0,338.6 L822.2,339.8 L822.2,345.4 L821.0,346.6 L807.9,346.6 L806.7,345.4 L806.7,339.8 Z" fill="#fff" stroke="#000" stroke-width="1.6"/><path d="M808.7,340.1 L808.7,345.1 M820.2,340.1 L820.2,345.1" stroke="#888" stroke-width="0.8"/><rect x="811.8" y="340.2" width="5.3" height="4.8" fill="none" stroke="#000" stroke-width="0.7"/>
<!-- inner box -->
<path d="M565,369.6 L583.9,369.6 L583.9,425 L662.4,425" class="l"/>
<path d="M718.7,357.8 L742,357.8" class="l"/>
<path d="M766,369.6 L806.7,369.6 M806.7,346 L806.7,420.5 Q806.7,424.5 802.7,424.5 L737,424.5" class="l"/>
<!-- hex nuts -->
<path id="hx1" d="M599.4,339.6 L605.7,343.2 L605.7,350.5 L599.4,354.1 L593.1,350.5 L593.1,343.2 Z" class="w"/>
<circle cx="599.4" cy="346.9" r="3.5" class="l" stroke-width="1"/>
<path d="M600,427.2 L606.5,431 L606.5,438.5 L600,442.2 L593.5,438.5 L593.5,431 Z" class="w"/>
<circle cx="600" cy="434.7" r="3.8" class="l" stroke-width="1"/>
<path d="M790.8,338.6 L797,342.2 L797,349.4 L790.8,353 L784.6,349.4 L784.6,342.2 Z" class="w"/>
<circle cx="790.8" cy="345.8" r="3.5" class="l" stroke-width="1"/>
<path d="M790.8,427.2 L797.3,431 L797.3,438.5 L790.8,442.2 L784.3,438.5 L784.3,431 Z" class="w"/>
<circle cx="790.8" cy="434.7" r="3.8" class="l" stroke-width="1"/>
<!-- big circle -->
<circle cx="695.2" cy="373.7" r="28" class="l"/>
<!-- pipe 17 sleeve -->
<path d="M656,351 L696,351 A9.5,9.5 0 0 1 696,369.6 L656,369.6" fill="#fff" stroke="#000" stroke-width="1.3"/>
<path d="M656.5,351 L602,351 Q599.4,351 599.4,354 L599.4,368 Q599.4,370.6 602,370.6 L656.5,370.6" class="w"/>
<path d="M601,353 L655,353 M601,368.6 L655,368.6" stroke="#000" stroke-width="1" stroke-dasharray="4 2.5"/>
<path d="M607,349.7 L615,349.7 M624,349.7 L632,349.7 M607,371.6 L615,371.6 M624,371.6 L632,371.6" stroke="#000" stroke-width="1.6"/>
<path d="M656,351 L658,356 L655.5,360.5 L658,365 L656,370" class="t"/>
<circle cx="695.5" cy="359.8" r="9.3" class="w"/>
<circle cx="695.5" cy="359.8" r="6.2" class="l"/>
<!-- pipe 15 elbow -->
<path d="M766.4,351 C750,351 738,358 731,370 L726,381 L749.5,386 L752,380 C756,373 760,369.6 766.4,369.6 Z" fill="#fff" stroke="none"/>
<path d="M766.4,351 C750,351 738,358 731,370 L728.2,380" class="l"/>
<path d="M766.4,369.6 C760,369.6 755,373 750.5,382" class="l"/>
<path d="M766.4,351 L822,351 M766.4,369.6 L822,369.6" class="l"/>
<path d="M822,353.4 L861.6,353.4 A6.5,6.5 0 0 1 861.6,366.4 L822,366.4" class="l"/>
<rect x="798.4" y="353.4" width="15.4" height="13" class="d"/>
<rect x="812.7" y="348.7" width="10" height="22.2" rx="1.5" class="w" stroke-width="1.7"/>
<!-- pipe 16 angled -->
<path d="M725.7,393.8 L718.8,424 C716,428 712,430 706,431 L703,432 C706,440 712,446 717.6,449 C726,446 733,440 736,432 L738.3,422.7 L743.9,396.3 Z" fill="#fff" stroke="none"/>
<path d="M725.7,393.8 L718.8,424.5 M743.9,396.3 L738.3,422.7" class="l"/>
<path d="M728.2,394.2 L721.8,423 M741.9,396 L735.6,422.5" class="t"/>
<path d="M726.4,379.4 L747.7,383.2 L745.8,393.8 L725.1,390 Z" class="w" stroke-width="1.7"/>
<path d="M726,387.3 L746.4,391" class="l" stroke-width="1.1"/>
<path d="M721.9,399.5 L720.8,407.6 M743.4,403.3 L742.2,411.4" stroke="#000" stroke-width="2.6"/>
<path d="M723.2,420.2 L735.8,422" class="l" stroke-width="1.1"/>
<path d="M723.9,425.2 C725,429 727,431.5 730,431.5 L734,431.5" class="t"/>
<path d="M718.8,424.5 C716,428 712,429.5 707,429 C703,428.5 701,430 699,431.5" class="l"/>
<path d="M707,429 C703,432 702,434 704.5,435.5 C708,435 712,433 718,428" class="l" stroke-width="1.1"/>
<path d="M738.3,422.7 C736,434 731,442 724,446 C720,448.5 716,449.5 712,449.5" class="l"/>
<!-- lower left circles & bar -->
<path d="M662.4,416.5 L697,416.5 M662.4,423.5 L697,423.5 M662.4,416.5 L662.4,423.5" class="l"/>
<circle cx="697.6" cy="420.2" r="9.8" class="l"/>
<circle cx="697.6" cy="420.2" r="6.2" class="l"/>
<circle cx="695.5" cy="439.8" r="9.3" class="l"/>
<circle cx="695.5" cy="439.8" r="6" class="l"/>
</g>
<g class="l">
<path d="M655.4,315.7 L667.4,360.3"/>
<path d="M719.6,315.7 L732.7,405.4"/>
<path d="M785.3,315.7 L760.3,359"/>
<path d="M687.2,488.9 L718.9,439"/>
</g>
<text transform="translate(647.5,310.0) scale(0.9,1)">17</text>
<text transform="translate(707.5,310.0) scale(0.9,1)">16</text>
<text transform="translate(776.1,310.0) scale(0.9,1)">15</text>
<text transform="translate(677.6,510.0) scale(0.9,1)">18</text>
<text transform="translate(680,281.3) scale(0.96,1)" style="font-size:26.5px;letter-spacing:0.3px">A-A</text>

</svg>
</body></html>
